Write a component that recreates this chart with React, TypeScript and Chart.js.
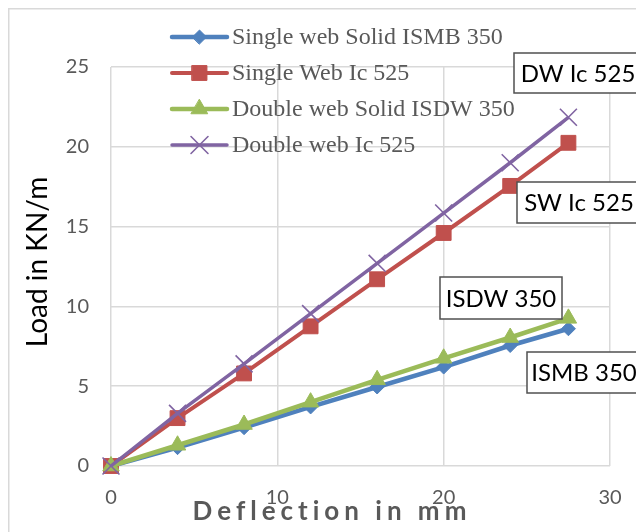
import { useEffect, useRef } from 'react';
import { Chart, registerables } from 'chart.js';
import { drawPoint } from 'chart.js/helpers';

Chart.register(...registerables);

// ---- data ----
const deflection = [0, 4, 8, 12, 16, 20, 24, 27.5];
const ismb350 = [0, 1.15, 2.4, 3.7, 4.95, 6.2, 7.55, 8.6];
const swIc525 = [0, 3.0, 5.8, 8.75, 11.7, 14.6, 17.55, 20.25];
const isdw350 = [0, 1.3, 2.6, 4.0, 5.4, 6.75, 8.05, 9.25];
const dwIc525 = [0, 3.3, 6.4, 9.55, 12.7, 15.85, 19.0, 21.85];

const seriesNames = [
  'Single web Solid ISMB 350',
  'Single Web Ic 525',
  'Double web Solid ISDW 350',
  'Double web Ic 525',
];
const calloutTexts = ['DW Ic 525', 'SW Ic 525', 'ISDW 350', 'ISMB 350'];
const xTitle = 'Deflection in mm';
const yTitle = 'Load in KN/m';
const xRange = [0, 30];
const yRange = [0, 25];

const W = 636;
const H = 524;

const styles = [
  { color: '#4f81bd', pointStyle: 'rectRot', radius: 7, lineWidth: 4.5, pbw: 1, order: 4 },
  { color: '#c0504d', pointStyle: 'rect', radius: 10.5, lineWidth: 4, pbw: 1, order: 3 },
  { color: '#9bbb59', pointStyle: 'triangle', radius: 9.5, lineWidth: 4.5, pbw: 1, order: 2 },
  { color: '#8064a2', pointStyle: 'crossRot', radius: 12, lineWidth: 3.5, pbw: 1.6, order: 1 },
];

const calloutBoxes = [
  { x: 506, y: 45, w: 128, h: 40 },
  { x: 509, y: 174, w: 124, h: 41 },
  { x: 432, y: 269, w: 122, h: 42 },
  { x: 519, y: 344, w: 114, h: 41 },
];

const overlay = {
  id: 'overlay',
  afterDraw(chart: any) {
    const ctx: CanvasRenderingContext2D = chart.ctx;
    ctx.save();
    // outer chart border
    ctx.strokeStyle = '#d9d9d9';
    ctx.lineWidth = 1.5;
    ctx.strokeRect(0.75, 0.75, W + 20, H + 20);

    // y title
    ctx.save();
    ctx.translate(30, 254);
    ctx.rotate(-Math.PI / 2);
    ctx.fillStyle = '#000';
    ctx.font = '28px Lato';
    ctx.textAlign = 'center';
    ctx.textBaseline = 'middle';
    ctx.fillText(yTitle, 0, 0);
    ctx.restore();

    // x title
    ctx.save();
    ctx.fillStyle = '#595959';
    ctx.font = 'bold 26px Lato';
    (ctx as any).letterSpacing = '5px';
    ctx.textAlign = 'center';
    ctx.textBaseline = 'alphabetic';
    ctx.fillText(xTitle, 324, 512);
    ctx.restore();

    // legend
    const rows = [29, 65, 101, 137];
    seriesNames.forEach((name, i) => {
      const s = styles[i];
      const y = rows[i];
      ctx.strokeStyle = s.color;
      ctx.lineWidth = s.lineWidth;
      ctx.lineCap = 'round';
      ctx.beginPath();
      ctx.moveTo(164, y);
      ctx.lineTo(219, y);
      ctx.stroke();
      ctx.fillStyle = s.color;
      ctx.strokeStyle = s.color;
      ctx.lineWidth = s.pbw;
      drawPoint(ctx, { pointStyle: s.pointStyle as any, radius: s.radius, rotation: 0, borderWidth: s.pbw }, 191.5, y);
      ctx.fillStyle = '#595959';
      ctx.font = '24px "Liberation Serif"';
      ctx.textAlign = 'left';
      ctx.textBaseline = 'middle';
      ctx.fillText(name, 224, y + 1);
    });

    // callout boxes
    calloutTexts.forEach((t, i) => {
      const b = calloutBoxes[i];
      ctx.fillStyle = '#fff';
      ctx.fillRect(b.x, b.y, b.w, b.h);
      ctx.strokeStyle = '#505050';
      ctx.lineWidth = 1.5;
      ctx.strokeRect(b.x, b.y, b.w, b.h);
      ctx.fillStyle = '#000';
      ctx.font = '24px Lato';
      ctx.textAlign = 'center';
      ctx.textBaseline = 'middle';
      ctx.fillText(t, b.x + b.w / 2, b.y + b.h / 2 + 1);
    });
    ctx.restore();
  },
};

export default function App() {
  const ref = useRef<HTMLCanvasElement | null>(null);
  useEffect(() => {
    if (!ref.current) return;
    Chart.defaults.font.family = 'Lato';
    const series = [ismb350, swIc525, isdw350, dwIc525];
    const chart = new Chart(ref.current, {
      type: 'scatter',
      data: {
        datasets: series.map((vals, i) => ({
          label: seriesNames[i],
          data: deflection.map((x, j) => ({ x, y: vals[j] })),
          showLine: true,
          borderColor: styles[i].color,
          backgroundColor: styles[i].color,
          pointBackgroundColor: styles[i].color,
          pointBorderColor: styles[i].color,
          pointStyle: styles[i].pointStyle as any,
          pointRadius: styles[i].radius,
          pointBorderWidth: styles[i].pbw,
          borderWidth: styles[i].lineWidth,
          tension: 0,
          clip: false as any,
          order: styles[i].order,
        })),
      },
      options: {
        animation: false,
        responsive: false,
        layout: { padding: { top: 59, right: 34, left: 0, bottom: 0 } },
        plugins: { legend: { display: false }, tooltip: { enabled: false }, title: { display: false } },
        scales: {
          x: {
            type: 'linear',
            min: xRange[0],
            max: xRange[1],
            ticks: { stepSize: 10, color: '#595959', font: { size: 20, family: 'Lato' }, padding: 20 },
            grid: { color: '#d9d9d9', lineWidth: 1.5, drawTicks: false },
            border: { display: false },
            afterFit: (s: any) => { s.height = 66; },
          },
          y: {
            type: 'linear',
            min: yRange[0],
            max: yRange[1],
            ticks: { stepSize: 5, color: '#595959', font: { size: 20, family: 'Lato' }, padding: 22 },
            grid: { color: '#d9d9d9', lineWidth: 1.5, drawTicks: false },
            border: { display: false },
            afterFit: (s: any) => { s.width = 103; },
          },
        },
      },
      plugins: [overlay],
    });
    return () => chart.destroy();
  }, []);
  return (
    <div style={{ width: W, height: H }}>
      <canvas ref={ref} width={W} height={H} style={{ display: 'block', width: W, height: H }} />
    </div>
  );
}
